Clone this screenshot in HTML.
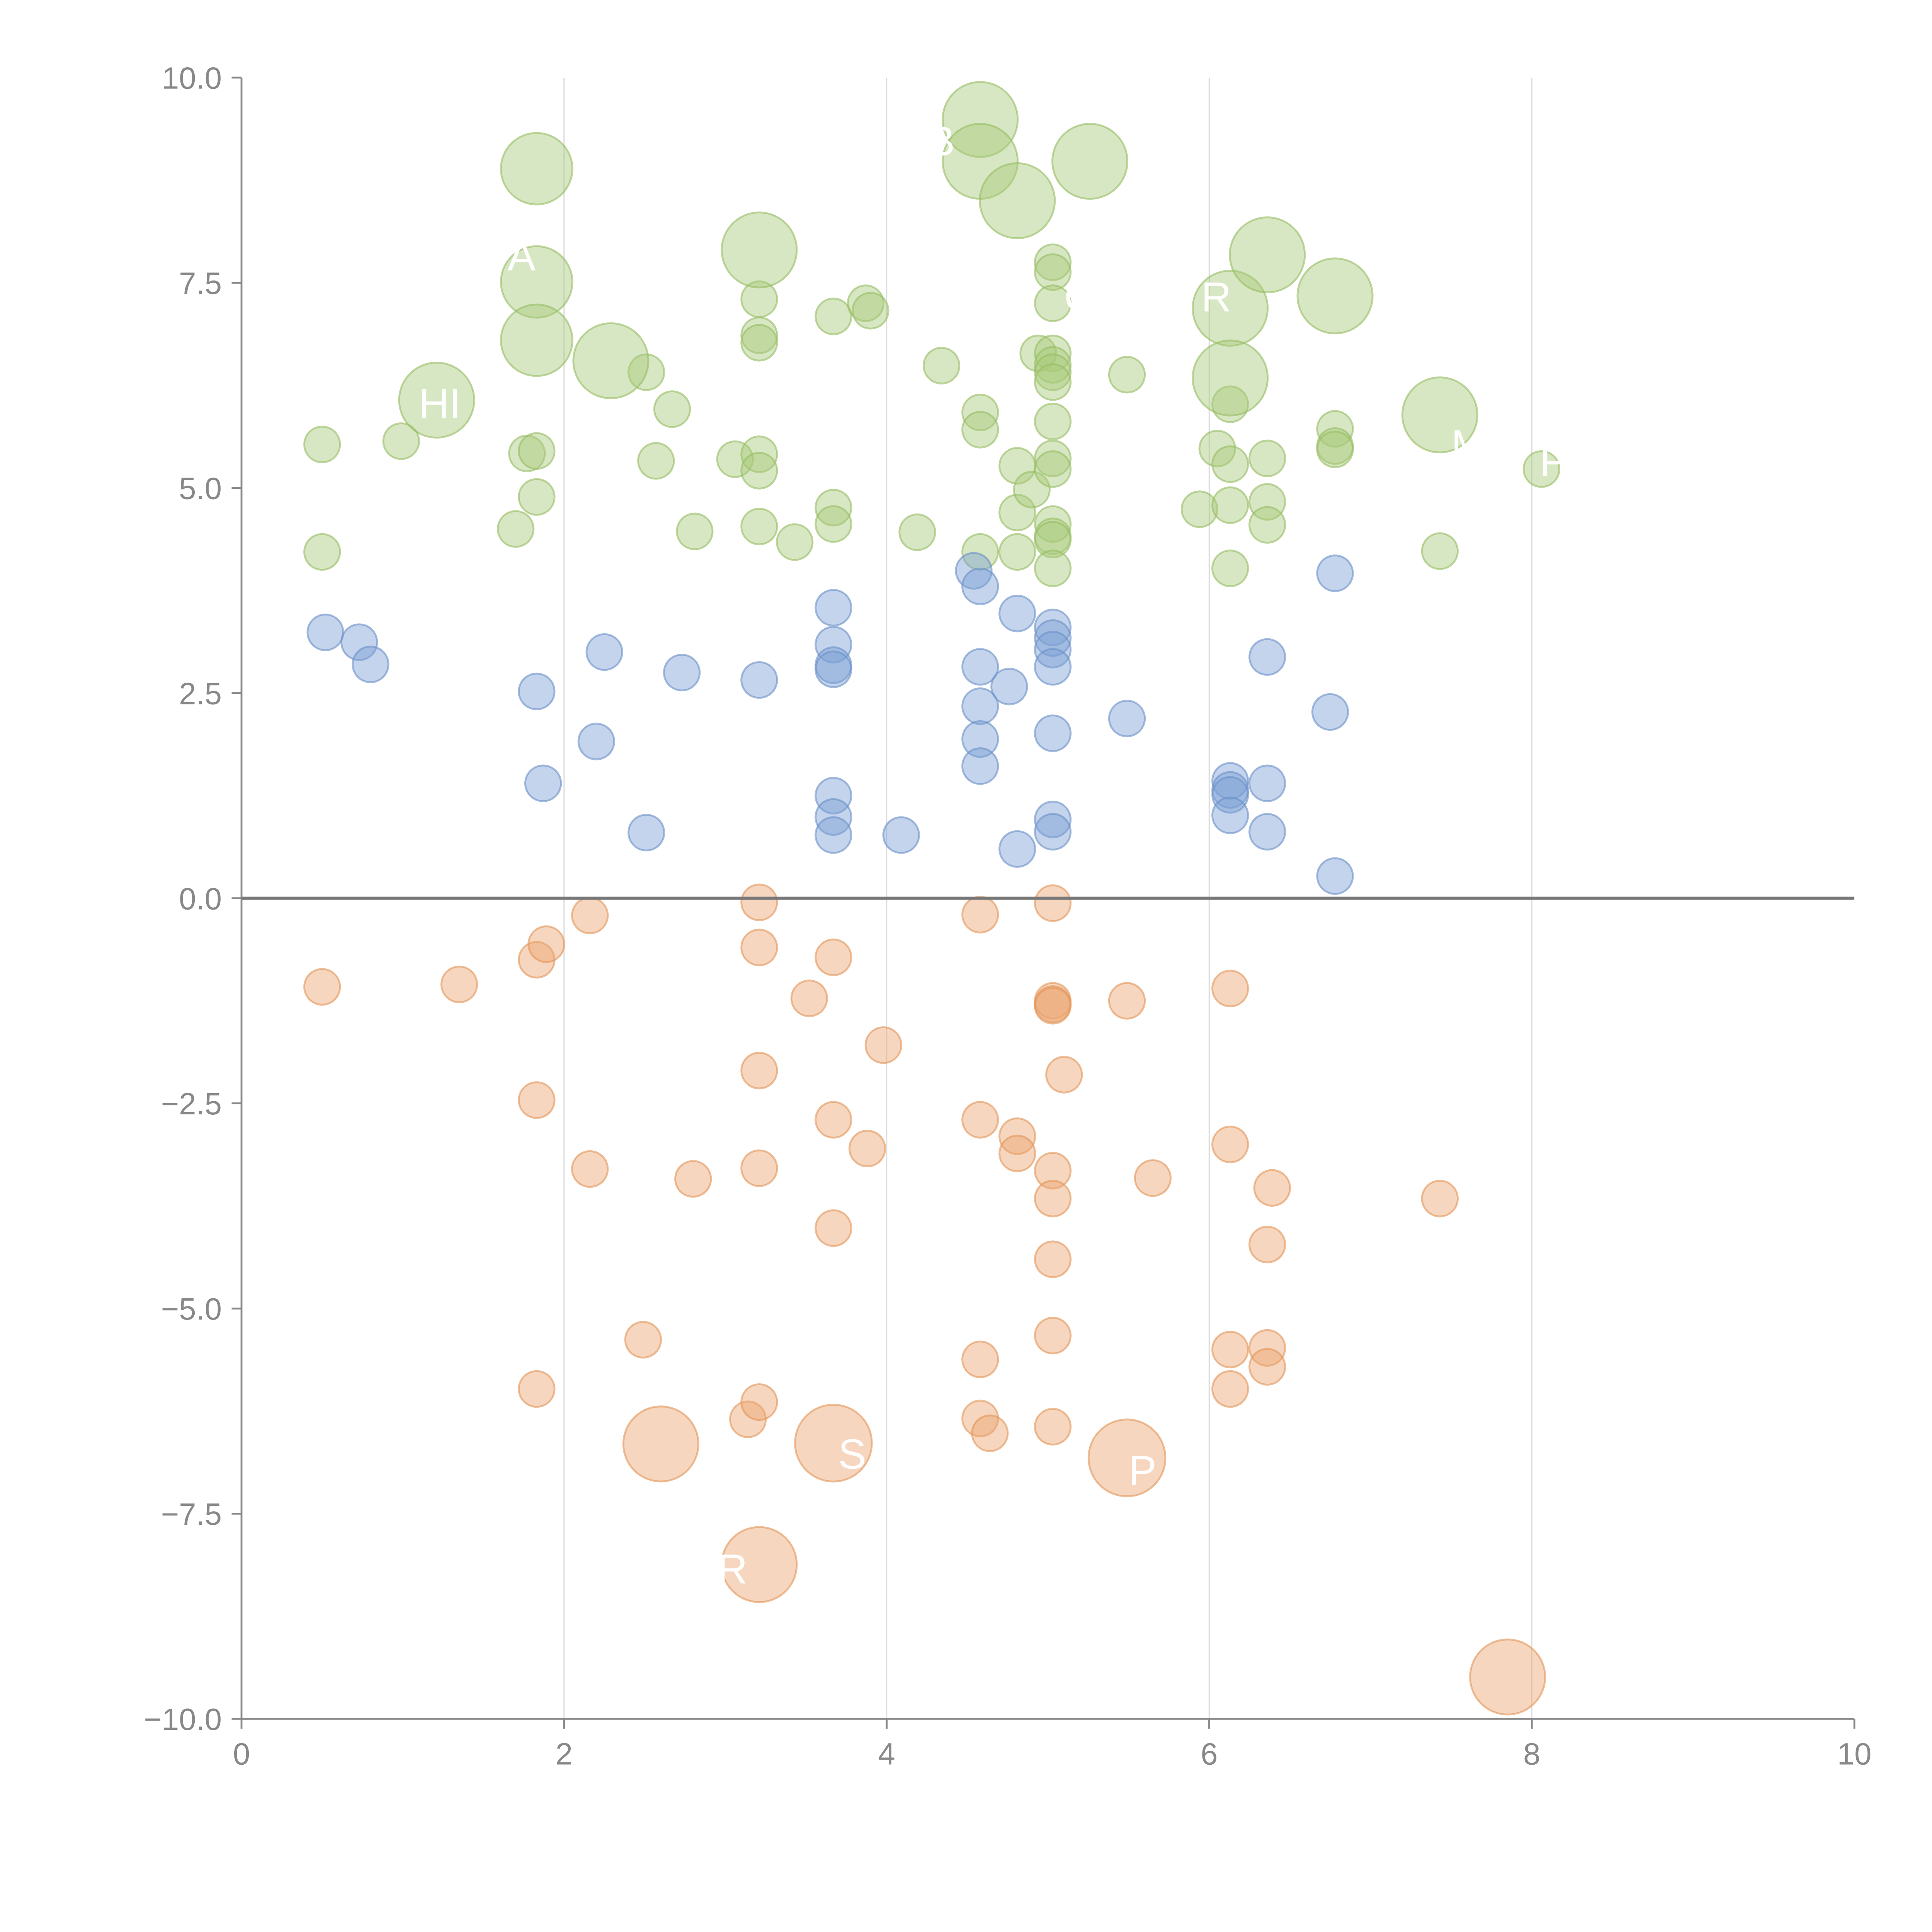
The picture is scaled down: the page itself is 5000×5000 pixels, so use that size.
<!DOCTYPE html>
<html><head><meta charset="utf-8"><style>
html,body{margin:0;padding:0;background:#fff;}
svg{display:block;}
</style></head><body>
<svg id="chart" width="5000" height="5000" viewBox="0 0 1568 1568" xmlns="http://www.w3.org/2000/svg" font-family="'Liberation Sans', sans-serif">
<rect width="1568" height="1568" fill="#fff"/>
<g id="grid"></g><g id="marks"></g><g id="axes"></g><g id="labels"></g>
</svg>
<script>
const greenX=[.50,.50,.99,1.70,1.77,1.83,1.83,2.51,2.57,2.67,2.81,3.06,3.21,3.21,3.21,3.21,3.21,3.21,3.43,3.67,3.67,3.67,3.87,3.90,4.19,4.34,4.58,4.58,4.58,4.81,4.81,4.81,4.90,4.94,5.03,5.03,5.03,5.03,5.03,5.03,5.03,5.03,5.03,5.03,5.03,5.03,5.03,5.03,5.49,5.94,6.05,6.13,6.13,6.13,6.13,6.36,6.36,6.36,6.78,6.78,6.78,7.43,8.06,
 1.83,1.83,1.83,1.21,2.29,3.21,4.58,4.58,4.81,5.26,6.13,6.13,6.36,6.78,7.43];
const greenY=[5.53,4.22,5.57,4.50,5.42,5.45,4.89,6.41,5.33,5.96,4.47,5.35,7.30,6.86,6.77,5.41,5.21,4.53,4.34,7.09,4.76,4.56,7.25,7.16,4.46,6.49,5.92,5.71,4.22,5.27,4.70,4.22,4.98,6.64,7.75,7.63,7.25,6.64,6.50,6.41,6.29,5.81,5.36,5.23,4.56,4.41,4.37,4.02,6.38,4.74,5.48,6.02,5.29,4.79,4.02,5.36,4.83,4.55,5.72,5.51,5.47,4.23,5.23,
 8.89,7.51,6.80,6.07,6.55,7.90,9.49,8.98,8.50,8.98,7.19,6.34,7.84,7.34,5.89];
const greenSize=[1,1,1,1,1,1,1,1,1,1,1,1,1,1,1,1,1,1,1,1,1,1,1,1,1,1,1,1,1,1,1,1,1,1,1,1,1,1,1,1,1,1,1,1,1,1,1,1,1,1,1,1,1,1,1,1,1,1,1,1,1,1,1,
 2.0,2.0,2.0,2.1,2.1,2.1,2.1,2.1,2.1,2.1,2.1,2.1,2.1,2.1,2.1];
const blueX=[.52,.73,.80,1.83,1.87,2.20,2.25,2.51,2.73,3.21,3.67,3.67,3.67,3.67,3.67,3.67,3.67,4.09,4.54,4.58,4.58,4.58,4.58,4.58,4.76,4.81,4.81,5.03,5.03,5.03,5.03,5.03,5.03,5.03,5.49,6.13,6.13,6.13,6.13,6.36,6.36,6.36,6.75,6.78,6.78];
const blueY=[3.24,3.12,2.85,2.52,1.40,1.91,3.00,0.80,2.75,2.66,3.54,3.09,2.84,2.79,1.25,0.99,0.77,0.77,3.99,3.80,2.82,2.34,1.94,1.61,2.58,3.47,0.60,3.30,3.17,3.03,2.82,2.01,0.96,0.81,2.19,1.43,1.32,1.26,1.01,2.94,1.40,0.81,2.27,3.96,0.27];
const orangeX=[.50,1.35,1.83,1.89,1.83,1.83,2.16,2.16,2.49,2.80,3.14,3.21,3.21,3.21,3.21,3.21,3.52,3.67,3.67,3.67,3.88,3.98,4.58,4.58,4.58,4.58,4.64,4.81,4.81,5.03,5.03,5.03,5.03,5.03,5.03,5.03,5.03,5.03,5.10,5.49,5.65,6.13,6.13,6.13,6.13,6.36,6.36,6.36,6.39,7.43,
 2.60,3.21,3.67,5.49,7.85];
const orangeY=[-1.08,-1.05,-0.75,-0.56,-2.46,-5.98,-0.21,-3.30,-5.38,-3.42,-6.35,-0.05,-0.60,-2.10,-3.29,-6.14,-1.22,-0.72,-2.70,-4.02,-3.05,-1.79,-0.20,-2.70,-5.62,-6.34,-6.52,-2.90,-3.11,-0.06,-1.25,-1.29,-1.31,-3.32,-3.66,-4.40,-5.33,-6.44,-2.15,-1.25,-3.41,-1.10,-3.00,-5.50,-5.98,-4.22,-5.48,-5.71,-3.53,-3.66,
 -6.65,-8.12,-6.64,-6.82,-9.49];
const orangeSize=[1,1,1,1,1,1,1,1,1,1,1,1,1,1,1,1,1,1,1,1,1,1,1,1,1,1,1,1,1,1,1,1,1,1,1,1,1,1,1,1,1,1,1,1,1,1,1,1,1,1,2.1,2.1,2.15,2.15,2.1];
const xTicks=[0,2,4,6,8,10];
const yTicks=[10,7.5,5,2.5,0,-2.5,-5,-7.5,-10];
const yTickLabels=["10.0","7.5","5.0","2.5","0.0","\u22122.5","\u22125.0","\u22127.5","\u221210.0"];

const NS="http://www.w3.org/2000/svg";
const X0=196,X1=1505,Y0=1395,Y1=63;
const sx=v=>X0+(v-0)/(10-0)*(X1-X0);
const sy=v=>Y0-(v+10)/20*(Y0-Y1);
function mk(tag,attrs,parent){const e=document.createElementNS(NS,tag);for(const k in attrs)e.setAttribute(k,attrs[k]);parent.appendChild(e);return e;}
const grid=document.getElementById('grid'),marks=document.getElementById('marks'),axes=document.getElementById('axes'),labels=document.getElementById('labels');

xTicks.forEach(t=>{
  if(t>0&&t<10){const g=mk('line',{x1:sx(t),x2:sx(t),y1:Y1,y2:Y0,stroke:'#dddddd','stroke-width':1},grid);
  
  }
  const tk=mk('line',{x1:sx(t),x2:sx(t),y1:Y0,y2:Y0+8,stroke:'#888','stroke-width':1.5},axes);
  
  
  const tx=mk('text',{x:sx(t),y:Y0+37,'text-anchor':'middle','font-size':25,fill:'#888'},axes);
  tx.textContent=t;
  
  
});
yTicks.forEach((t,i)=>{
  const tk=mk('line',{x1:X0-8,x2:X0,y1:sy(t),y2:sy(t),stroke:'#888','stroke-width':1.5},axes);
  
  
  const tx=mk('text',{x:X0-16,y:sy(t)+9,'text-anchor':'end','font-size':25,fill:'#888'},axes);
  tx.textContent=yTickLabels[i];
  
  
});
let a=mk('line',{x1:X0,x2:X0,y1:Y1,y2:Y0,stroke:'#888','stroke-width':1.5},axes);


a=mk('line',{x1:X0,x2:X1,y1:Y0,y2:Y0,stroke:'#888','stroke-width':1.5},axes);


a=mk('line',{x1:X0,x2:X1,y1:sy(0),y2:sy(0),stroke:'#777','stroke-width':2.5},axes);



function series(xs,ys,sz,fill,stroke,name){
  xs.forEach((x,i)=>{
    const r=14.5*(sz?sz[i]:1);
    const c=mk('circle',{cx:sx(x),cy:sy(ys[i]),r:r,fill:fill,'fill-opacity':0.45,stroke:stroke,'stroke-opacity':0.6,'stroke-width':1.5},marks);
    
    
  });
}
series(greenX,greenY,greenSize,'#a9c97a','#96bc62','green-bubble');
series(blueX,blueY,null,'#7b9fd4','#6a90c8','blue-bubble');
series(orangeX,orangeY,orangeSize,'#eca46e','#e39458','orange-bubble');

const labText=["HI","A","M","P","S","R","P","C","R","B"];
const labX=[1.10,1.65,7.50,8.05,3.70,2.95,5.50,5.10,5.95,4.25];
const labY=[5.85,7.65,5.35,5.15,-6.95,-8.35,-7.15,7.15,7.15,9.05];
labText.forEach((t,i)=>{
  const e=mk('text',{x:sx(labX[i]),y:sy(labY[i]),'font-size':34,fill:'#fff'},labels);
  e.textContent=t;
  
  
});
</script>
</body></html>
